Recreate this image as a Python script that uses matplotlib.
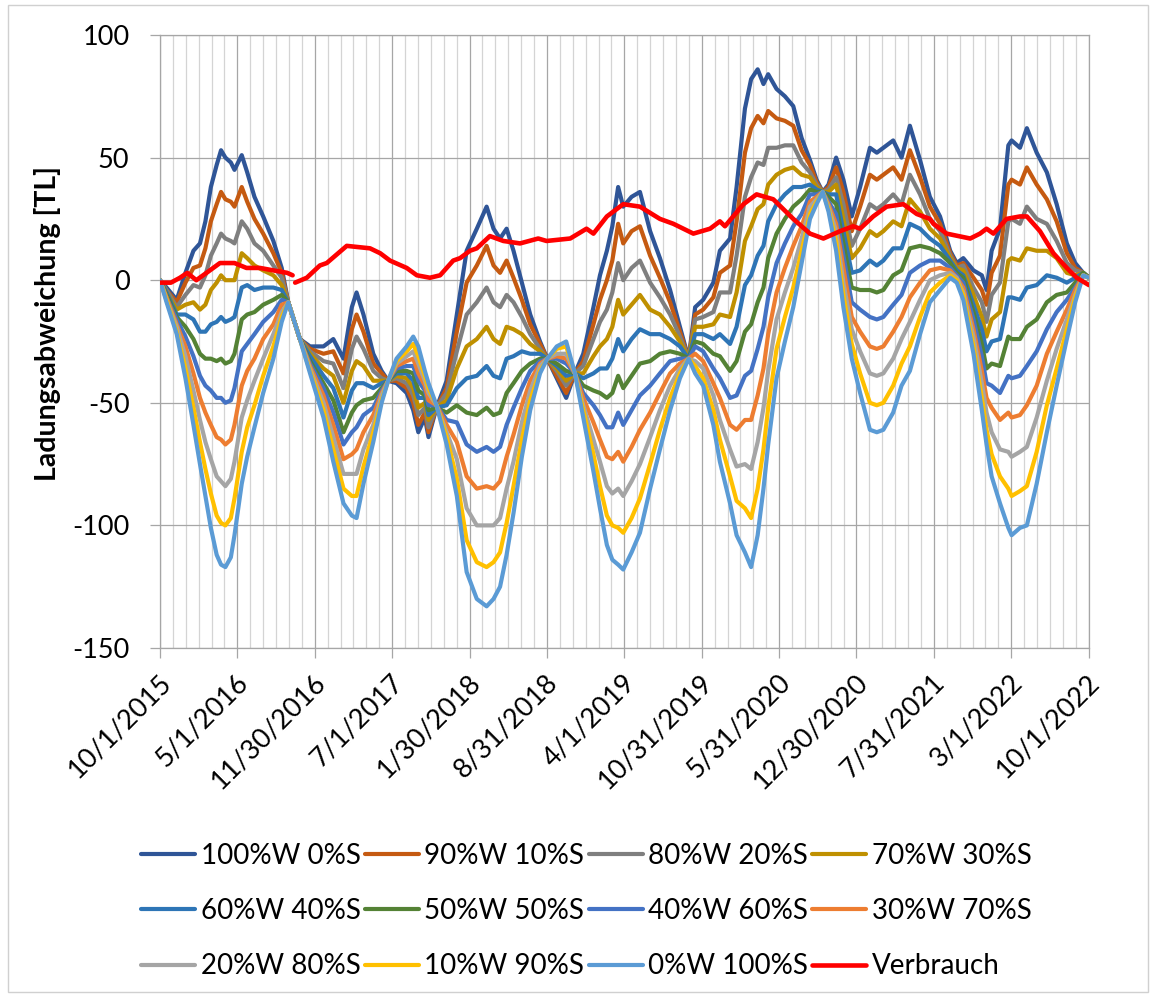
import matplotlib
matplotlib.use('Agg')
import matplotlib.pyplot as plt
import matplotlib.dates as mdates
import matplotlib.transforms as mtransforms
import numpy as np
import pandas as pd
from matplotlib.patches import Rectangle

plt.rcParams['font.family'] = ['Lato', 'DejaVu Sans']

# ---------------- data ----------------
start_date = '2015-10-01'

# days since 10/1/2015 for the mixed storage series
day_offsets = [
    0, 18, 46, 70, 92, 110, 125, 140, 156, 168,
    180, 195, 205, 225, 240, 260, 284, 312, 335, 353,
    385, 413, 450, 477, 505, 528, 541, 560, 587, 610,
    628, 651, 679, 697, 711, 729, 739, 761, 789, 817,
    844, 872, 899, 918, 936, 954, 973, 996, 1019, 1046,
    1066, 1092, 1118, 1142, 1165, 1193, 1211, 1230, 1245, 1261,
    1275, 1298, 1321, 1349, 1376, 1404, 1431, 1455, 1473, 1495,
    1523, 1541, 1569, 1587, 1610, 1627, 1645, 1661, 1674, 1697,
    1720, 1743, 1766, 1789, 1807, 1824, 1840, 1861, 1881, 1904,
    1927, 1954, 1973, 1991, 2018, 2041, 2064, 2092, 2119, 2147,
    2175, 2193, 2211, 2239, 2262, 2275, 2289, 2312, 2335, 2344,
    2367, 2386, 2413, 2441, 2468, 2496, 2519, 2541, 2557]

w100_s0 = [
    0, -3, -8, 3, 12, 15, 24, 38, 47, 53,
    50, 48, 45, 51, 44, 34, 26, 16, 5, -9,
    -24, -27, -27, -24, -32, -11, -5, -14, -30, -37,
    -41, -42, -46, -53, -62, -56, -64, -52, -41, -14,
    12, 21, 30, 21, 17, 21, 12, -1, -14, -25,
    -32, -40, -48, -38, -30, -11, 2, 12, 22, 38,
    30, 34, 36, 20, 9, -4, -19, -32, -11, -8,
    -1, 12, 17, 38, 70, 82, 86, 80, 84, 78,
    75, 71, 58, 49, 41, 36, 39, 50, 41, 26,
    38, 54, 52, 54, 57, 50, 63, 49, 34, 26,
    12, 7, 9, 4, 2, -4, 12, 21, 55, 57,
    54, 62, 52, 44, 31, 15, 7, 3, 1]

w90_s10 = [
    0, -4, -9, -1, 5, 6, 13, 24, 31, 36,
    33, 32, 30, 38, 32, 25, 19, 11, 3, -9,
    -24, -28, -30, -29, -38, -20, -14, -21, -34, -38,
    -41, -41, -44, -50, -59, -54, -62, -52, -44, -21,
    -1, 6, 14, 6, 3, 8, 1, -8, -18, -26,
    -32, -39, -46, -38, -33, -18, -8, 0, 8, 23,
    15, 20, 22, 10, 1, -9, -21, -32, -14, -12,
    -7, 3, 6, 24, 52, 62, 67, 64, 69, 66,
    65, 63, 53, 47, 40, 36, 38, 46, 36, 20,
    30, 43, 41, 43, 46, 41, 53, 42, 30, 23,
    11, 6, 7, 1, -4, -10, 3, 10, 39, 41,
    39, 46, 39, 33, 24, 11, 5, 3, 1]

w80_s20 = [
    0, -4, -11, -6, -2, -3, 2, 10, 15, 19,
    17, 16, 15, 24, 21, 15, 12, 6, 1, -9,
    -24, -29, -33, -34, -44, -28, -23, -28, -37, -40,
    -41, -40, -42, -47, -55, -52, -60, -52, -46, -29,
    -14, -9, -3, -9, -11, -6, -9, -15, -22, -28,
    -32, -37, -43, -38, -35, -24, -17, -12, -5, 7,
    0, 5, 8, -1, -7, -14, -23, -32, -16, -15,
    -13, -5, -5, 10, 34, 42, 48, 47, 54, 54,
    55, 55, 48, 44, 39, 36, 37, 42, 31, 14,
    21, 31, 29, 31, 35, 31, 43, 35, 25, 20,
    10, 5, 6, -3, -9, -17, -6, -1, 24, 25,
    23, 30, 25, 23, 16, 7, 4, 3, 1]

w70_s30 = [
    0, -5, -12, -10, -9, -12, -10, -4, -1, 2,
    0, 0, 0, 11, 9, 6, 4, 2, -2, -9,
    -24, -30, -36, -39, -50, -37, -33, -35, -41, -41,
    -41, -39, -40, -44, -52, -50, -57, -52, -49, -36,
    -27, -24, -19, -24, -26, -19, -20, -22, -26, -29,
    -32, -36, -41, -38, -38, -31, -27, -24, -19, -8,
    -14, -10, -6, -12, -14, -19, -25, -32, -19, -19,
    -18, -14, -15, -5, 16, 22, 29, 31, 39, 43,
    45, 46, 43, 42, 38, 36, 36, 39, 25, 9,
    13, 20, 18, 20, 24, 22, 33, 28, 21, 17,
    9, 5, 4, -6, -15, -23, -16, -13, 8, 9,
    8, 13, 12, 12, 9, 3, 2, 3, 1]

w60_s40 = [
    0, -5, -14, -14, -16, -21, -21, -18, -17, -15,
    -17, -16, -15, -3, -2, -4, -3, -3, -4, -9,
    -24, -31, -39, -44, -56, -45, -42, -42, -44, -42,
    -41, -38, -38, -41, -48, -48, -55, -52, -51, -44,
    -40, -39, -35, -39, -40, -32, -31, -29, -30, -30,
    -32, -35, -39, -38, -40, -38, -36, -36, -32, -24,
    -29, -24, -20, -22, -22, -24, -27, -32, -22, -22,
    -24, -22, -26, -19, -2, 2, 10, 14, 24, 31,
    35, 38, 38, 39, 37, 36, 35, 35, 20, 3,
    4, 8, 6, 8, 13, 13, 23, 21, 17, 14,
    8, 4, 2, -10, -20, -29, -25, -24, -7, -7,
    -8, -3, -2, 2, 1, -1, 1, 3, 1]

w50_s50 = [
    0, -6, -15, -19, -24, -30, -32, -32, -33, -32,
    -34, -33, -30, -16, -14, -13, -10, -8, -6, -9,
    -24, -33, -42, -49, -62, -54, -51, -49, -48, -44,
    -41, -37, -37, -38, -45, -47, -53, -52, -54, -51,
    -54, -55, -52, -55, -54, -46, -42, -37, -34, -32,
    -32, -34, -37, -38, -43, -45, -46, -48, -46, -39,
    -44, -39, -34, -33, -30, -29, -30, -32, -25, -26,
    -30, -31, -37, -33, -21, -18, -9, -3, 9, 19,
    25, 30, 33, 37, 36, 36, 34, 31, 15, -3,
    -4, -4, -5, -4, 2, 4, 13, 14, 13, 11,
    7, 3, 1, -13, -26, -36, -34, -35, -23, -24,
    -24, -19, -16, -9, -6, -5, -1, 3, 1]

w40_s60 = [
    0, -7, -16, -23, -31, -39, -43, -45, -48, -48,
    -50, -49, -44, -29, -26, -22, -17, -13, -8, -9,
    -24, -34, -44, -54, -67, -62, -60, -55, -52, -45,
    -41, -36, -35, -35, -41, -45, -51, -51, -57, -58,
    -67, -70, -68, -70, -68, -59, -52, -44, -37, -33,
    -32, -32, -34, -38, -46, -51, -55, -60, -60, -54,
    -59, -53, -47, -43, -38, -33, -32, -32, -27, -29,
    -36, -40, -48, -47, -39, -37, -28, -19, -7, 7,
    15, 22, 27, 35, 35, 36, 32, 27, 10, -9,
    -12, -15, -16, -15, -10, -6, 3, 6, 8, 8,
    5, 2, -1, -16, -31, -42, -43, -46, -39, -40,
    -39, -35, -29, -20, -13, -8, -3, 2, 1]

w30_s70 = [
    0, -7, -18, -27, -38, -48, -54, -59, -64, -65,
    -67, -65, -59, -43, -37, -32, -24, -18, -10, -9,
    -24, -35, -47, -59, -73, -71, -69, -62, -55, -46,
    -41, -35, -33, -32, -38, -43, -49, -51, -59, -66,
    -80, -85, -84, -85, -82, -72, -63, -51, -41, -34,
    -32, -31, -32, -38, -48, -58, -65, -72, -73, -70,
    -74, -68, -61, -54, -46, -38, -34, -32, -30, -33,
    -42, -48, -59, -61, -57, -57, -47, -36, -22, -5,
    5, 14, 22, 32, 34, 36, 31, 23, 5, -15,
    -21, -27, -28, -27, -21, -15, -7, -1, 4, 5,
    4, 1, -3, -20, -37, -48, -52, -57, -54, -56,
    -55, -51, -43, -30, -21, -12, -4, 2, 1]

w20_s80 = [
    0, -8, -19, -31, -45, -57, -66, -73, -80, -82,
    -84, -81, -74, -56, -49, -41, -32, -22, -13, -9,
    -24, -36, -50, -64, -79, -79, -79, -69, -59, -47,
    -41, -34, -31, -29, -34, -41, -46, -51, -62, -73,
    -93, -100, -100, -100, -97, -85, -74, -58, -45, -35,
    -32, -30, -30, -38, -51, -65, -74, -84, -87, -85,
    -88, -82, -75, -64, -53, -43, -36, -32, -33, -36,
    -47, -57, -69, -76, -75, -77, -66, -52, -37, -16,
    -5, 5, 17, 30, 33, 36, 30, 20, -1, -20,
    -29, -38, -39, -38, -32, -24, -17, -8, 0, 2,
    3, 1, -5, -23, -42, -54, -62, -69, -70, -72,
    -70, -68, -56, -41, -28, -16, -6, 2, 1]

w10_s90 = [
    0, -8, -21, -36, -52, -66, -77, -87, -96, -99,
    -100, -97, -89, -70, -60, -51, -39, -27, -15, -9,
    -24, -37, -53, -69, -85, -88, -88, -76, -62, -49,
    -41, -33, -29, -26, -31, -39, -44, -51, -64, -81,
    -106, -115, -117, -115, -111, -99, -84, -65, -49, -37,
    -32, -28, -27, -38, -53, -71, -84, -96, -100, -101,
    -103, -97, -89, -75, -61, -48, -38, -32, -35, -40,
    -53, -65, -80, -90, -93, -97, -85, -69, -52, -28,
    -15, -3, 12, 27, 32, 36, 29, 16, -6, -26,
    -38, -50, -51, -50, -43, -34, -27, -15, -5, -1,
    2, 0, -6, -27, -48, -61, -71, -80, -85, -88,
    -86, -84, -70, -51, -36, -20, -7, 2, 1]

w0_s100 = [
    0, -9, -22, -40, -59, -75, -88, -101, -112, -116,
    -117, -113, -104, -83, -72, -60, -46, -32, -17, -9,
    -24, -38, -56, -74, -91, -96, -97, -83, -66, -50,
    -41, -32, -27, -23, -27, -37, -42, -51, -67, -88,
    -119, -130, -133, -130, -125, -112, -95, -72, -53, -38,
    -32, -27, -25, -38, -56, -78, -93, -108, -114, -116,
    -118, -111, -103, -85, -69, -53, -40, -32, -38, -43,
    -59, -74, -91, -104, -111, -117, -104, -85, -67, -40,
    -25, -11, 7, 25, 31, 36, 28, 12, -11, -32,
    -46, -61, -62, -61, -54, -43, -37, -22, -9, -4,
    1, -1, -8, -30, -53, -67, -80, -91, -101, -104,
    -101, -100, -83, -62, -43, -24, -9, 2, 1]

verbrauch_days = [
    0, 30, 55, 75, 100, 128, 165, 205, 238, 275,
    312, 350, 365, 368, 372, 404, 440, 459, 514, 578,
    606, 633, 679, 707, 743, 771, 807, 826, 853, 872,
    908, 945, 991, 1041, 1064, 1129, 1174, 1193, 1230, 1266,
    1275, 1321, 1376, 1413, 1468, 1514, 1541, 1555, 1606, 1642,
    1688, 1743, 1789, 1826, 1872, 1908, 1927, 1963, 2000, 2046,
    2083, 2119, 2129, 2165, 2230, 2257, 2275, 2294, 2330, 2367,
    2386, 2422, 2459, 2496, 2523, 2557]
verbrauch = [
    -1, -1, 1, 3, 0, 3, 7, 7, 5, 5,
    4, 3, 2, np.nan, -1, 1, 6, 7, 14, 13,
    11, 8, 5, 2, 1, 2, 8, 9, 12, 13,
    18, 16, 15, 17, 16, 17, 21, 19, 26, 30,
    31, 30, 25, 23, 19, 21, 24, 22, 31, 35,
    33, 25, 19, 17, 20, 22, 21, 26, 30, 31,
    27, 25, 23, 19, 17, 19, 21, 19, 25, 26,
    26, 20, 11, 5, 1, -2]

series_names = ['100%W 0%S', '90%W 10%S', '80%W 20%S', '70%W 30%S',
                '60%W 40%S', '50%W 50%S', '40%W 60%S', '30%W 70%S',
                '20%W 80%S', '10%W 90%S', '0%W 100%S']
series_values = [w100_s0, w90_s10, w80_s20, w70_s30, w60_s40, w50_s50,
                 w40_s60, w30_s70, w20_s80, w10_s90, w0_s100]
series_colors = ['#2F5597', '#C55A11', '#7F7F7F', '#BF9000', '#2E75B6',
                 '#548235', '#4472C4', '#ED7D31', '#A5A5A5', '#FFC000',
                 '#5B9BD5']
verbrauch_name = 'Verbrauch'
verbrauch_color = '#FF0000'

tick_labels = ['10/1/2015', '5/1/2016', '11/30/2016', '7/1/2017', '1/30/2018',
               '8/31/2018', '4/1/2019', '10/31/2019', '5/31/2020', '12/30/2020',
               '7/31/2021', '3/1/2022', '10/1/2022']
y_ticks = [-150, -100, -50, 0, 50, 100]
y_label = 'Ladungsabweichung [TL]'

# ---------------- figure ----------------
W, H = 1153, 996
fig = plt.figure(figsize=(W / 100, H / 100), dpi=100)
L, R, T, B = 160, 1089, 35, 648
ax = fig.add_axes([L / W, 1 - B / H, (R - L) / W, (B - T) / H])

t0 = pd.Timestamp(start_date)
x = (t0 + pd.to_timedelta(day_offsets, unit='D')).to_pydatetime()
xv = (t0 + pd.to_timedelta(verbrauch_days, unit='D')).to_pydatetime()

handles = []
for name, vals, col in zip(series_names, series_values, series_colors):
    ln, = ax.plot(x, vals, color=col, lw=3.0, solid_joinstyle='round',
                  solid_capstyle='round', label=name, zorder=3)
    handles.append(ln)
ln, = ax.plot(xv, verbrauch, color=verbrauch_color, lw=3.3,
              solid_joinstyle='round', solid_capstyle='round',
              label=verbrauch_name, zorder=4)
handles.append(ln)

ticks = pd.to_datetime(tick_labels, format='%m/%d/%Y').to_pydatetime()
tnum = mdates.date2num(ticks)
minor = []
for a, b in zip(tnum[:-1], tnum[1:]):
    for i in range(1, 6):
        minor.append(a + (b - a) * i / 6)

ax.set_xlim(tnum[0], tnum[-1])
ax.set_ylim(-150, 100)
ax.set_xticks(tnum)
ax.set_xticks(minor, minor=True)
ax.set_xticklabels(tick_labels, rotation=45, ha='right', va='center',
                   rotation_mode='anchor', fontsize=19.5)
ax.set_yticks(y_ticks)
ax.set_yticklabels([str(v) for v in y_ticks], fontsize=19.5)

ax.grid(which='major', axis='both', color='#A6A6A6', lw=0.9, zorder=0)
ax.grid(which='minor', axis='x', color='#D4D4D4', lw=0.9, zorder=0)
ax.set_axisbelow(True)
ax.tick_params(axis='x', which='major', length=7, width=0.9, color='#A6A6A6',
               pad=12)
ax.tick_params(axis='x', which='minor', length=0)
ax.tick_params(axis='y', which='major', length=7, width=0.9, color='#A6A6A6',
               pad=15)
for s in ax.spines.values():
    s.set_color('#A6A6A6')
    s.set_linewidth(0.9)

shift = mtransforms.ScaledTranslation(7 / 100, -4 / 100, fig.dpi_scale_trans)
for lbl in ax.get_xticklabels():
    lbl.set_transform(lbl.get_transform() + shift)

fig.text(48 / W, 1 - 323 / H, y_label, rotation=90, ha='center', va='center',
         fontsize=20.5, fontweight='bold')

# legend: row-wise order
order = [0, 4, 8, 1, 5, 9, 2, 6, 10, 3, 7, 11]
leg = fig.legend([handles[i] for i in order], [handles[i].get_label() for i in order],
                 loc='upper left', bbox_to_anchor=(141 / W, 1 - 843 / H),
                 ncol=4, frameon=False, fontsize=20, handlelength=1.95,
                 handletextpad=0.2, columnspacing=0.15, labelspacing=1.05,
                 borderaxespad=0, borderpad=0)

fig.patches.append(Rectangle((8 / W, 1 - 992 / H), (1148 - 8) / W, (992 - 5) / H,
                             transform=fig.transFigure, fill=False,
                             ec='#D0D0D0', lw=1))

fig.savefig('out.png', dpi=100)
